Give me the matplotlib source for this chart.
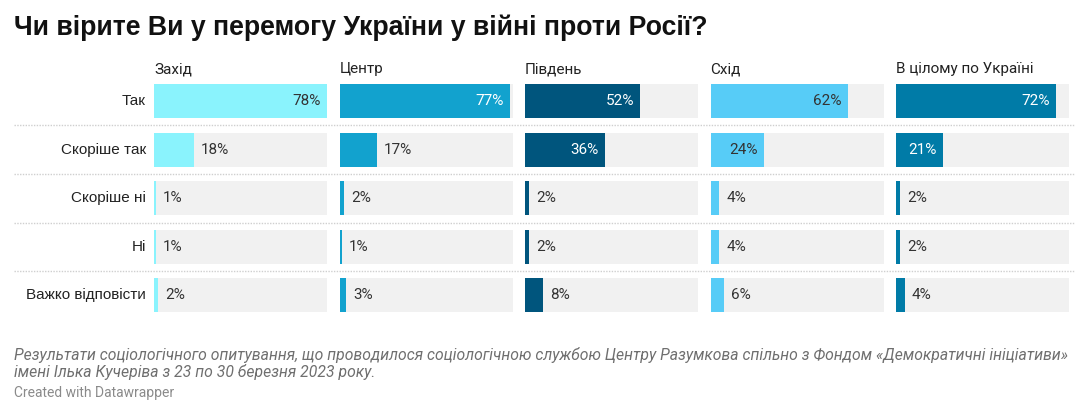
import matplotlib
matplotlib.use("Agg")
import matplotlib.pyplot as plt

# data
answers = ["Так", "Скоріше так", "Скоріше ні", "Ні", "Важко відповісти"]
regions = ["Захід", "Центр", "Південь", "Схід", "В цілому по Україні"]
zahid = [78, 18, 1, 1, 2]
tsentr = [77, 17, 2, 1, 3]
pivden = [52, 36, 2, 2, 8]
skhid = [62, 24, 4, 4, 6]
ukraina = [72, 21, 2, 2, 4]
values = [zahid, tsentr, pivden, skhid, ukraina]

colors = ["#8af3fd", "#12a2ce", "#00557d", "#57ccf7", "#007ba7"]
label_in = ["#333333", "white", "white", "#333333", "white"]

title = "Чи вірите Ви у перемогу України у війні проти Росії?"
note = ("Результати соціологічного опитування, що проводилося соціологічною службою Центру Разумкова спільно з Фондом «Демократичні ініціативи»\n"
        "імені Ілька Кучеріва з 23 по 30 березня 2023 року.")
credit = "Created with Datawrapper"

plt.rcParams['font.family'] = ['Roboto', 'DejaVu Sans']

W, H = 1088, 413
fig = plt.figure(figsize=(W / 100, H / 100), dpi=100)

# vertical extent of the rows (pixels)
top_px, bot_px = 76.7, 319.7
ax_b = 1 - bot_px / H
ax_h = (bot_px - top_px) / H
xmax = max(max(v) for v in values)

# background axis: row labels and dotted separators
bg = fig.add_axes([0, ax_b, 1, ax_h])
bg.set_xlim(0, W)
bg.set_ylim(len(answers) - 0.5, -0.5)
bg.axis("off")
bg.hlines([i + 0.5 for i in range(len(answers) - 1)], 14, 1074,
          colors="#cfcfcf", linewidth=1, linestyles=(0, (1, 1)))
for i, a in enumerate(answers):
    bg.text(146, i, a, ha="right", va="center", fontsize=11, color="#222222",
            family=["Liberation Sans", "DejaVu Sans"])

pw = 173
for k, (reg, vals) in enumerate(zip(regions, values)):
    left = 154 + k * 185.5
    ax = fig.add_axes([left / W, ax_b, pw / W, ax_h])
    ax.set_xlim(0, xmax)
    ax.set_ylim(len(answers) - 0.5, -0.5)
    ax.axis("off")
    y = range(len(answers))
    ax.barh(y, [xmax] * len(answers), height=0.7, color="#f1f1f1")
    ax.barh(y, vals, height=0.7, color=colors[k])
    for i, v in enumerate(vals):
        if v >= 20:
            ax.annotate(f"{v}%", (v, i), xytext=(-4.5, 0), textcoords="offset points",
                        ha="right", va="center", fontsize=11, color=label_in[k])
        else:
            ax.annotate(f"{v}%", (v, i), xytext=(5, 0), textcoords="offset points",
                        ha="left", va="center", fontsize=11, color="#333333")
    fig.text(left / W, 1 - 69 / H, reg, ha="left", va="center", fontsize=11, color="#222222")

fig.text(14 / W, 1 - 28 / H, title, ha="left", va="center", fontsize=19.2,
         fontweight="bold", family=["Liberation Sans", "DejaVu Sans"], color="#111111")
fig.text(14 / W, 1 - 363.5 / H, note, ha="left", va="center", fontsize=11.3,
         style="italic", color="#6f6f6f", linespacing=1.12)
fig.text(14 / W, 1 - 393 / H, credit, ha="left", va="center", fontsize=10, color="#8a8a8a")

fig.savefig("out.png", dpi=100)
